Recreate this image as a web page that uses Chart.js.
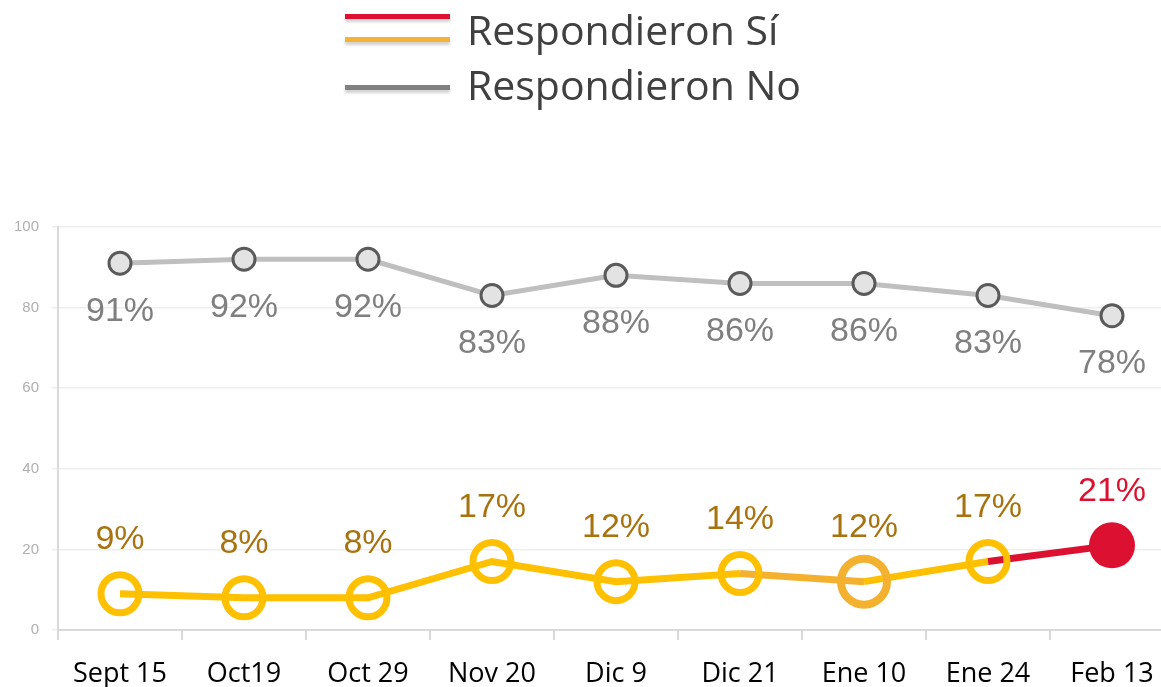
<!DOCTYPE html>
<html>
<head>
<meta charset="utf-8">
<script src="https://cdn.jsdelivr.net/npm/chart.js@4/dist/chart.umd.min.js"></script>
<style>
  html, body { margin: 0; padding: 0; background: #fff; overflow: hidden; }
  #wrap { position: relative; width: 1176px; height: 687px; }
  #legend { position: absolute; left: 0; top: 0; width: 1161px; height: 120px; font-family: 'Open Sans', sans-serif; color: #404040; }
  .sw { position: absolute; left: 345px; width: 105px; height: 5px; box-shadow: 0 3px 3px rgba(0,0,0,0.18); }
  .lt { position: absolute; left: 467px; font-size: 41px; line-height: 41px; white-space: nowrap; }
</style>
</head>
<body>
<div id="wrap">
  <canvas id="c" width="1176" height="687"></canvas>
  <div id="legend">
    <div class="sw" style="top:14px;background:#DC1030"></div>
    <div class="sw" style="top:37px;background:#F5B335"></div>
    <div class="lt" style="top:9px">Respondieron Sí</div>
    <div class="sw" style="top:85px;background:#808080"></div>
    <div class="lt" style="top:64px">Respondieron No</div>
  </div>
</div>
<script>
/* Encuesta: respondieron sí / no por fecha */
const labels = ["Sept 15", "Oct19", "Oct 29", "Nov 20", "Dic 9", "Dic 21", "Ene 10", "Ene 24", "Feb 13"];
const siValues = [9, 8, 8, 17, 12, 14, 12, 17, 21];
const noValues = [91, 92, 92, 83, 88, 86, 86, 83, 78];
const yTicks = [0, 20, 40, 60, 80, 100];

const COL = {
  yellow: "#FFC000", orange: "#F4B12F", red: "#DC1030",
  grey: "#BFBFBF", greyDark: "#5a5a5a", siText: "#A8720E", noText: "#7f7f7f",
};

const last = siValues.length - 1;
const isEne10 = (i) => labels[i] === "Ene 10";
const siBorder = siValues.map((v, i) => i === last ? COL.red : (isEne10(i) ? COL.orange : COL.yellow));
const siRadius = siValues.map((v, i) => i === last ? 23 : (isEne10(i) ? 23 : 19));
const siBw = siValues.map((v, i) => i === last ? 0 : (isEne10(i) ? 8 : 7));
const siFill = siValues.map((v, i) => i === last ? COL.red : "rgba(255,255,255,0)");

const dataLabels = {
  id: "dataLabels",
  afterDatasetsDraw(chart) {
    const ctx = chart.ctx;
    ctx.save();
    ctx.textAlign = "center";
    ctx.textBaseline = "middle";
    chart.data.datasets.forEach((ds, di) => {
      const meta = chart.getDatasetMeta(di);
      meta.data.forEach((pt, i) => {
        const isSi = di === 0;
        ctx.fillStyle = isSi && i === last ? COL.red : (isSi ? COL.siText : COL.noText);
        ctx.font = "34px 'Liberation Sans', Arial, sans-serif";
        ctx.fillText(ds.data[i] + "%", pt.x, pt.y + (isSi ? -54 : 48));
      });
    });
    ctx.restore();
  },
};

new Chart(document.getElementById("c"), {
  type: "line",
  data: {
    labels,
    datasets: [
      {
        label: "Respondieron Sí", data: siValues,
        borderColor: COL.yellow, borderWidth: 7,
        segment: {
          borderColor: (c) => c.p0DataIndex === last - 1 ? COL.red : (c.p1DataIndex === 6 ? COL.orange : COL.yellow),
        },
        pointRadius: siRadius, pointBorderWidth: siBw,
        pointBorderColor: siBorder, pointBackgroundColor: siFill,
        tension: 0, clip: false,
      },
      {
        label: "Respondieron No", data: noValues,
        borderColor: COL.grey, borderWidth: 5,
        pointRadius: 11, pointBorderWidth: 3,
        pointBorderColor: COL.greyDark, pointBackgroundColor: "#e3e3e3",
        tension: 0, clip: false,
      },
    ],
  },
  options: {
    responsive: false, animation: false,
    layout: { autoPadding: false, padding: { top: 227, right: 2, left: 0, bottom: 0 } },
    plugins: { legend: { display: false }, tooltip: { enabled: false } },
    scales: {
      x: {
        offset: true,
        grid: { offset: true, drawOnChartArea: false, drawTicks: true, tickLength: 10, color: "#d9d9d9", lineWidth: 2 },
        border: { color: "#d9d9d9", width: 2 },
        ticks: { color: "#000", padding: 18, maxRotation: 0, font: { family: "'Open Sans', sans-serif", size: 27 } },
        afterFit: (s) => { s.height = 57; s.paddingLeft = 0; s.paddingRight = 0; },
      },
      y: {
        min: 0, max: 100,
        afterBuildTicks: (s) => { s.ticks = yTicks.map((v) => ({ value: v })); },
        grid: { color: "#eeeeee", lineWidth: 1.5, tickLength: 6 },
        border: { color: "#d9d9d9", width: 2 },
        ticks: { color: "#b0b0b0", padding: 13, font: { family: "'Liberation Sans', sans-serif", size: 15 } },
        afterFit: (s) => { s.width = 58; },
      },
    },
  },
  plugins: [dataLabels],
});
</script>
</body>
</html>
